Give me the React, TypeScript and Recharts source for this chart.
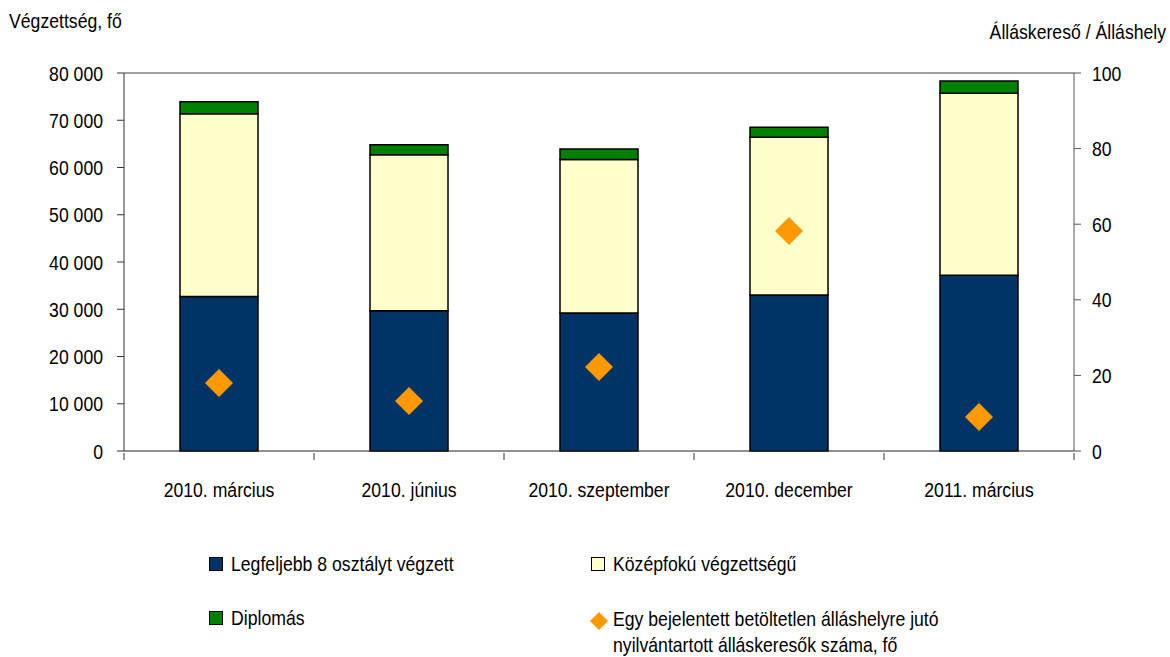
import React from "react"
import { ComposedChart, Bar, Scatter, XAxis, YAxis, ReferenceLine } from "recharts"

const categories = ["2010. március", "2010. június", "2010. szeptember", "2010. december", "2011. március"]
const legfeljebb8 = [32700, 29700, 29200, 33000, 37200]
const kozepfoku = [38700, 33000, 32500, 33400, 38500]
const diplomas = [2500, 2100, 2200, 2100, 2600]
const ratio = [18.0, 13.2, 22.2, 58.2, 9.0]
const leftTicks = [0, 10000, 20000, 30000, 40000, 50000, 60000, 70000, 80000]
const rightTicks = [0, 20, 40, 60, 80, 100]

const data = categories.map((name, i) => ({
  name,
  low: legfeljebb8[i],
  mid: kozepfoku[i],
  high: diplomas[i],
  ratio: ratio[i],
}))

const FONT = "'Liberation Sans', Arial, sans-serif"
const FS = 21
const SX = 0.84 // narrow look of the original font
const BAND = 190

const fmt = (v: number) => v.toString().replace(/\B(?=(\d{3})+(?!\d))/g, " ")

const NarrowText = ({ x, y, anchor, children }: any) => (
  <text
    transform={`translate(${x},${y}) scale(${SX},1)`}
    textAnchor={anchor}
    fontSize={FS}
    fill="#000"
    fontFamily={FONT}
  >
    {children}
  </text>
)

const CategoryTick = (props: any) => {
  const { x, y, payload, index } = props
  return (
    <g>
      <line x1={x - BAND / 2} y1={y} x2={x - BAND / 2} y2={y + 7} stroke="#333" />
      {index === categories.length - 1 && (
        <line x1={x + BAND / 2} y1={y} x2={x + BAND / 2} y2={y + 7} stroke="#333" />
      )}
      <NarrowText x={x} y={y + 44} anchor="middle">{payload.value}</NarrowText>
    </g>
  )
}

const LeftTick = (props: any) => {
  const { x, y, payload } = props
  return <NarrowText x={x} y={y + 7.5} anchor="end">{fmt(payload.value)}</NarrowText>
}

const RightTick = (props: any) => {
  const { x, y, payload } = props
  return <NarrowText x={x} y={y + 7.5} anchor="start">{payload.value}</NarrowText>
}

const Diamond = (props: any) => {
  const { cx, cy } = props
  const r = 14
  return <polygon points={`${cx},${cy - r} ${cx + r},${cy} ${cx},${cy + r} ${cx - r},${cy}`} fill="#FF9900" />
}

const Swatch = ({ color }: { color: string }) => (
  <span style={{ display: "inline-block", width: 12, height: 12, background: color, border: "1.5px solid #000", marginRight: 8 }} />
)

export default function App() {
  const text = { fontFamily: FONT, fontSize: FS, color: "#000", position: "absolute" as const, whiteSpace: "nowrap" as const }
  const narrow = (origin: string) => ({ transform: `scaleX(${SX})`, transformOrigin: origin, display: "inline-block" })
  return (
    <div style={{ position: "absolute", left: 0, top: 0, width: 1170, height: 657, background: "#fff" }}>
      <ComposedChart width={1170} height={657} data={data} margin={{ top: 73, right: 0, bottom: 0, left: 0 }}>
        <XAxis dataKey="name" height={206} tick={<CategoryTick />} tickLine={false} tickSize={0} axisLine={{ stroke: "#222" }} interval={0} />
        <YAxis
          yAxisId="left"
          width={124}
          domain={[0, 80000]}
          ticks={leftTicks}
          tickSize={7}
          tickMargin={14}
          tick={<LeftTick />}
          axisLine={{ stroke: "#333" }}
          tickLine={{ stroke: "#333" }}
        />
        <YAxis
          yAxisId="right"
          orientation="right"
          width={96}
          domain={[0, 100]}
          ticks={rightTicks}
          tickSize={7}
          tickMargin={11}
          tick={<RightTick />}
          axisLine={{ stroke: "#555" }}
          tickLine={{ stroke: "#555" }}
        />
        <ReferenceLine yAxisId="left" y={80000} stroke="#808080" strokeWidth={1.5} />
        <Bar yAxisId="left" dataKey="low" stackId="a" fill="#003366" stroke="#000" strokeWidth={1.5} barSize={78} isAnimationActive={false} />
        <Bar yAxisId="left" dataKey="mid" stackId="a" fill="#FFFFCC" stroke="#000" strokeWidth={1.5} barSize={78} isAnimationActive={false} />
        <Bar yAxisId="left" dataKey="high" stackId="a" fill="#008000" stroke="#000" strokeWidth={1.5} barSize={78} isAnimationActive={false} />
        <Scatter yAxisId="right" dataKey="ratio" shape={<Diamond />} isAnimationActive={false} />
      </ComposedChart>

      <div style={{ ...text, left: 9, top: 9 }}>
        <span style={narrow("left")}>Végzettség, fő</span>
      </div>
      <div style={{ ...text, right: 4, top: 20 }}>
        <span style={narrow("right")}>Álláskereső / Álláshely</span>
      </div>

      <div style={{ ...text, left: 209, top: 552, display: "flex", alignItems: "center" }}>
        <Swatch color="#003366" />
        <span style={narrow("left")}>Legfeljebb 8 osztályt végzett</span>
      </div>
      <div style={{ ...text, left: 591, top: 552, display: "flex", alignItems: "center" }}>
        <Swatch color="#FFFFCC" />
        <span style={narrow("left")}>Középfokú végzettségű</span>
      </div>
      <div style={{ ...text, left: 209, top: 606, display: "flex", alignItems: "center" }}>
        <Swatch color="#008000" />
        <span style={narrow("left")}>Diplomás</span>
      </div>
      <div style={{ ...text, left: 589, top: 606, display: "flex", alignItems: "flex-start" }}>
        <svg width={20} height={20} style={{ marginRight: 4, marginTop: 5 }}>
          <polygon points="10,1 19,10 10,19 1,10" fill="#FF9900" />
        </svg>
        <div style={{ lineHeight: "26px", ...narrow("left") }}>
          Egy bejelentett betöltetlen álláshelyre jutó
          <br />
          nyilvántartott álláskeresők száma, fő
        </div>
      </div>
    </div>
  )
}
